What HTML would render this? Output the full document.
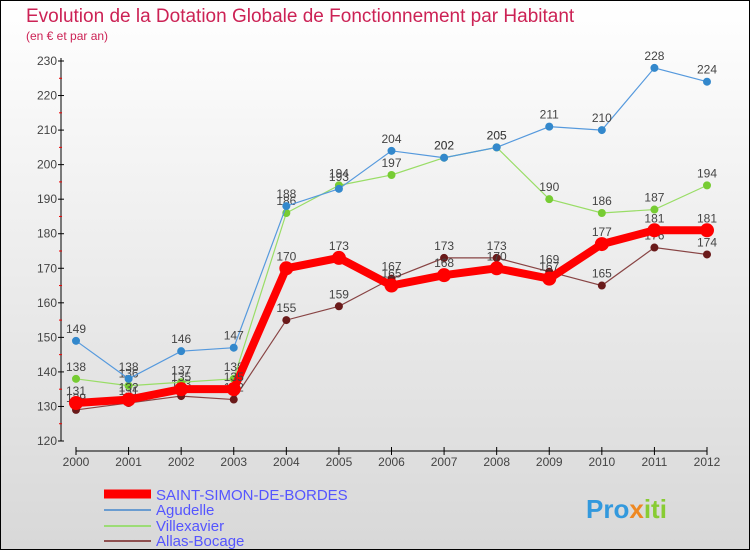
<!DOCTYPE html>
<html><head><meta charset="utf-8"><style>
body{margin:0}
#w{width:750px;height:550px;position:relative;overflow:hidden;font-family:"Liberation Sans",sans-serif;background:linear-gradient(#ffffff,#d8d8d8);border:1px solid #000;box-sizing:border-box}
</style></head><body>
<div id="w">
<svg id="s" width="750" height="550">
<text x="25" y="21" font-size="19" fill="#cc2255">Evolution de la Dotation Globale de Fonctionnement par Habitant</text>
<text x="25" y="39" font-size="12" fill="#cc2255">(en € et par an)</text>
<g id="grid"></g><g id="series"></g>
<g>
<line x1="103" y1="493" x2="150" y2="493" stroke="#ff0000" stroke-width="9"/>
<text x="155" y="499" font-size="15" fill="#5555ff">SAINT-SIMON-DE-BORDES</text>
<line x1="103" y1="509" x2="150" y2="509" stroke="#4488cc" stroke-width="1.5"/>
<text x="155" y="514" font-size="15" fill="#5555ff">Agudelle</text>
<line x1="103" y1="525" x2="150" y2="525" stroke="#88dd55" stroke-width="1.5"/>
<text x="155" y="530" font-size="15" fill="#5555ff">Villexavier</text>
<line x1="103" y1="540" x2="150" y2="540" stroke="#772222" stroke-width="1.5"/>
<text x="155" y="545" font-size="15" fill="#5555ff">Allas-Bocage</text>
</g>
<text x="585" y="517" font-size="26" font-weight="bold" fill="#3399dd">Pro<tspan fill="#ee8822">x</tspan><tspan fill="#88cc33">iti</tspan></text>
</svg>
</div>
<script>
const years=[2000,2001,2002,2003,2004,2005,2006,2007,2008,2009,2010,2011,2012];
const yTicks=[120,130,140,150,160,170,180,190,200,210,220,230];
const saintSimon=[131,132,135,135,170,173,165,168,170,167,177,181,181];
const agudelle=[149,138,146,147,188,193,204,202,205,211,210,228,224];
const villexavier=[138,136,137,138,186,194,197,202,205,190,186,187,194];
const allasBocage=[129,131,133,132,155,159,167,173,173,169,165,176,174];
const NS='http://www.w3.org/2000/svg';
const X=i=>75+i*(706-75)/(years.length-1);
const Y=v=>440-(v-120)*(380/110);
function mk(t,a,p){const e=document.createElementNS(NS,t);for(const k in a)e.setAttribute(k,a[k]);p.appendChild(e);return e;}
const g=document.getElementById('grid'),sg=document.getElementById('series');
const ax=mk('line',{x1:60,y1:57,x2:60,y2:440,stroke:'#000'},g);


const bx=mk('line',{x1:X(0),y1:450,x2:X(years.length-1),y2:450,stroke:'#000'},g);


yTicks.forEach(v=>{const t=mk('text',{x:56,y:Y(v)+4,'font-size':12,fill:'#444','text-anchor':'end'},g);t.textContent=v;


mk('line',{x1:57,y1:Y(v),x2:63,y2:Y(v),stroke:'#000'},g);
if(v<230)mk('line',{x1:58,y1:Y(v+5),x2:61,y2:Y(v+5),stroke:'#e00'},g);});
years.forEach((y,i)=>{const t=mk('text',{x:X(i),y:465,'font-size':12,fill:'#444','text-anchor':'middle'},g);t.textContent=y;


mk('line',{x1:X(i),y1:446,x2:X(i),y2:454,stroke:'#000'},g);});
function series(d,col,dot,w,r,name){
const pl=mk('polyline',{points:d.map((v,i)=>X(i)+','+Y(v)).join(' '),fill:'none',stroke:col,'stroke-width':w},sg);


d.forEach((v,i)=>{const c=mk('circle',{cx:X(i),cy:Y(v),r:r,fill:dot},sg);


const t=mk('text',{x:X(i),y:Y(v)-8,'font-size':12,fill:'#444','text-anchor':'middle'},sg);t.textContent=v;

});}
series(allasBocage,'#884444','#6a1a1a',1.2,4,'allas-bocage');
series(villexavier,'#99dd66','#77cc33',1.2,4,'villexavier');
series(agudelle,'#5599dd','#3388cc',1.2,4,'agudelle');
series(saintSimon,'#ff0000','#ff0000',8,7,'saint-simon');
</script>
</body></html>
